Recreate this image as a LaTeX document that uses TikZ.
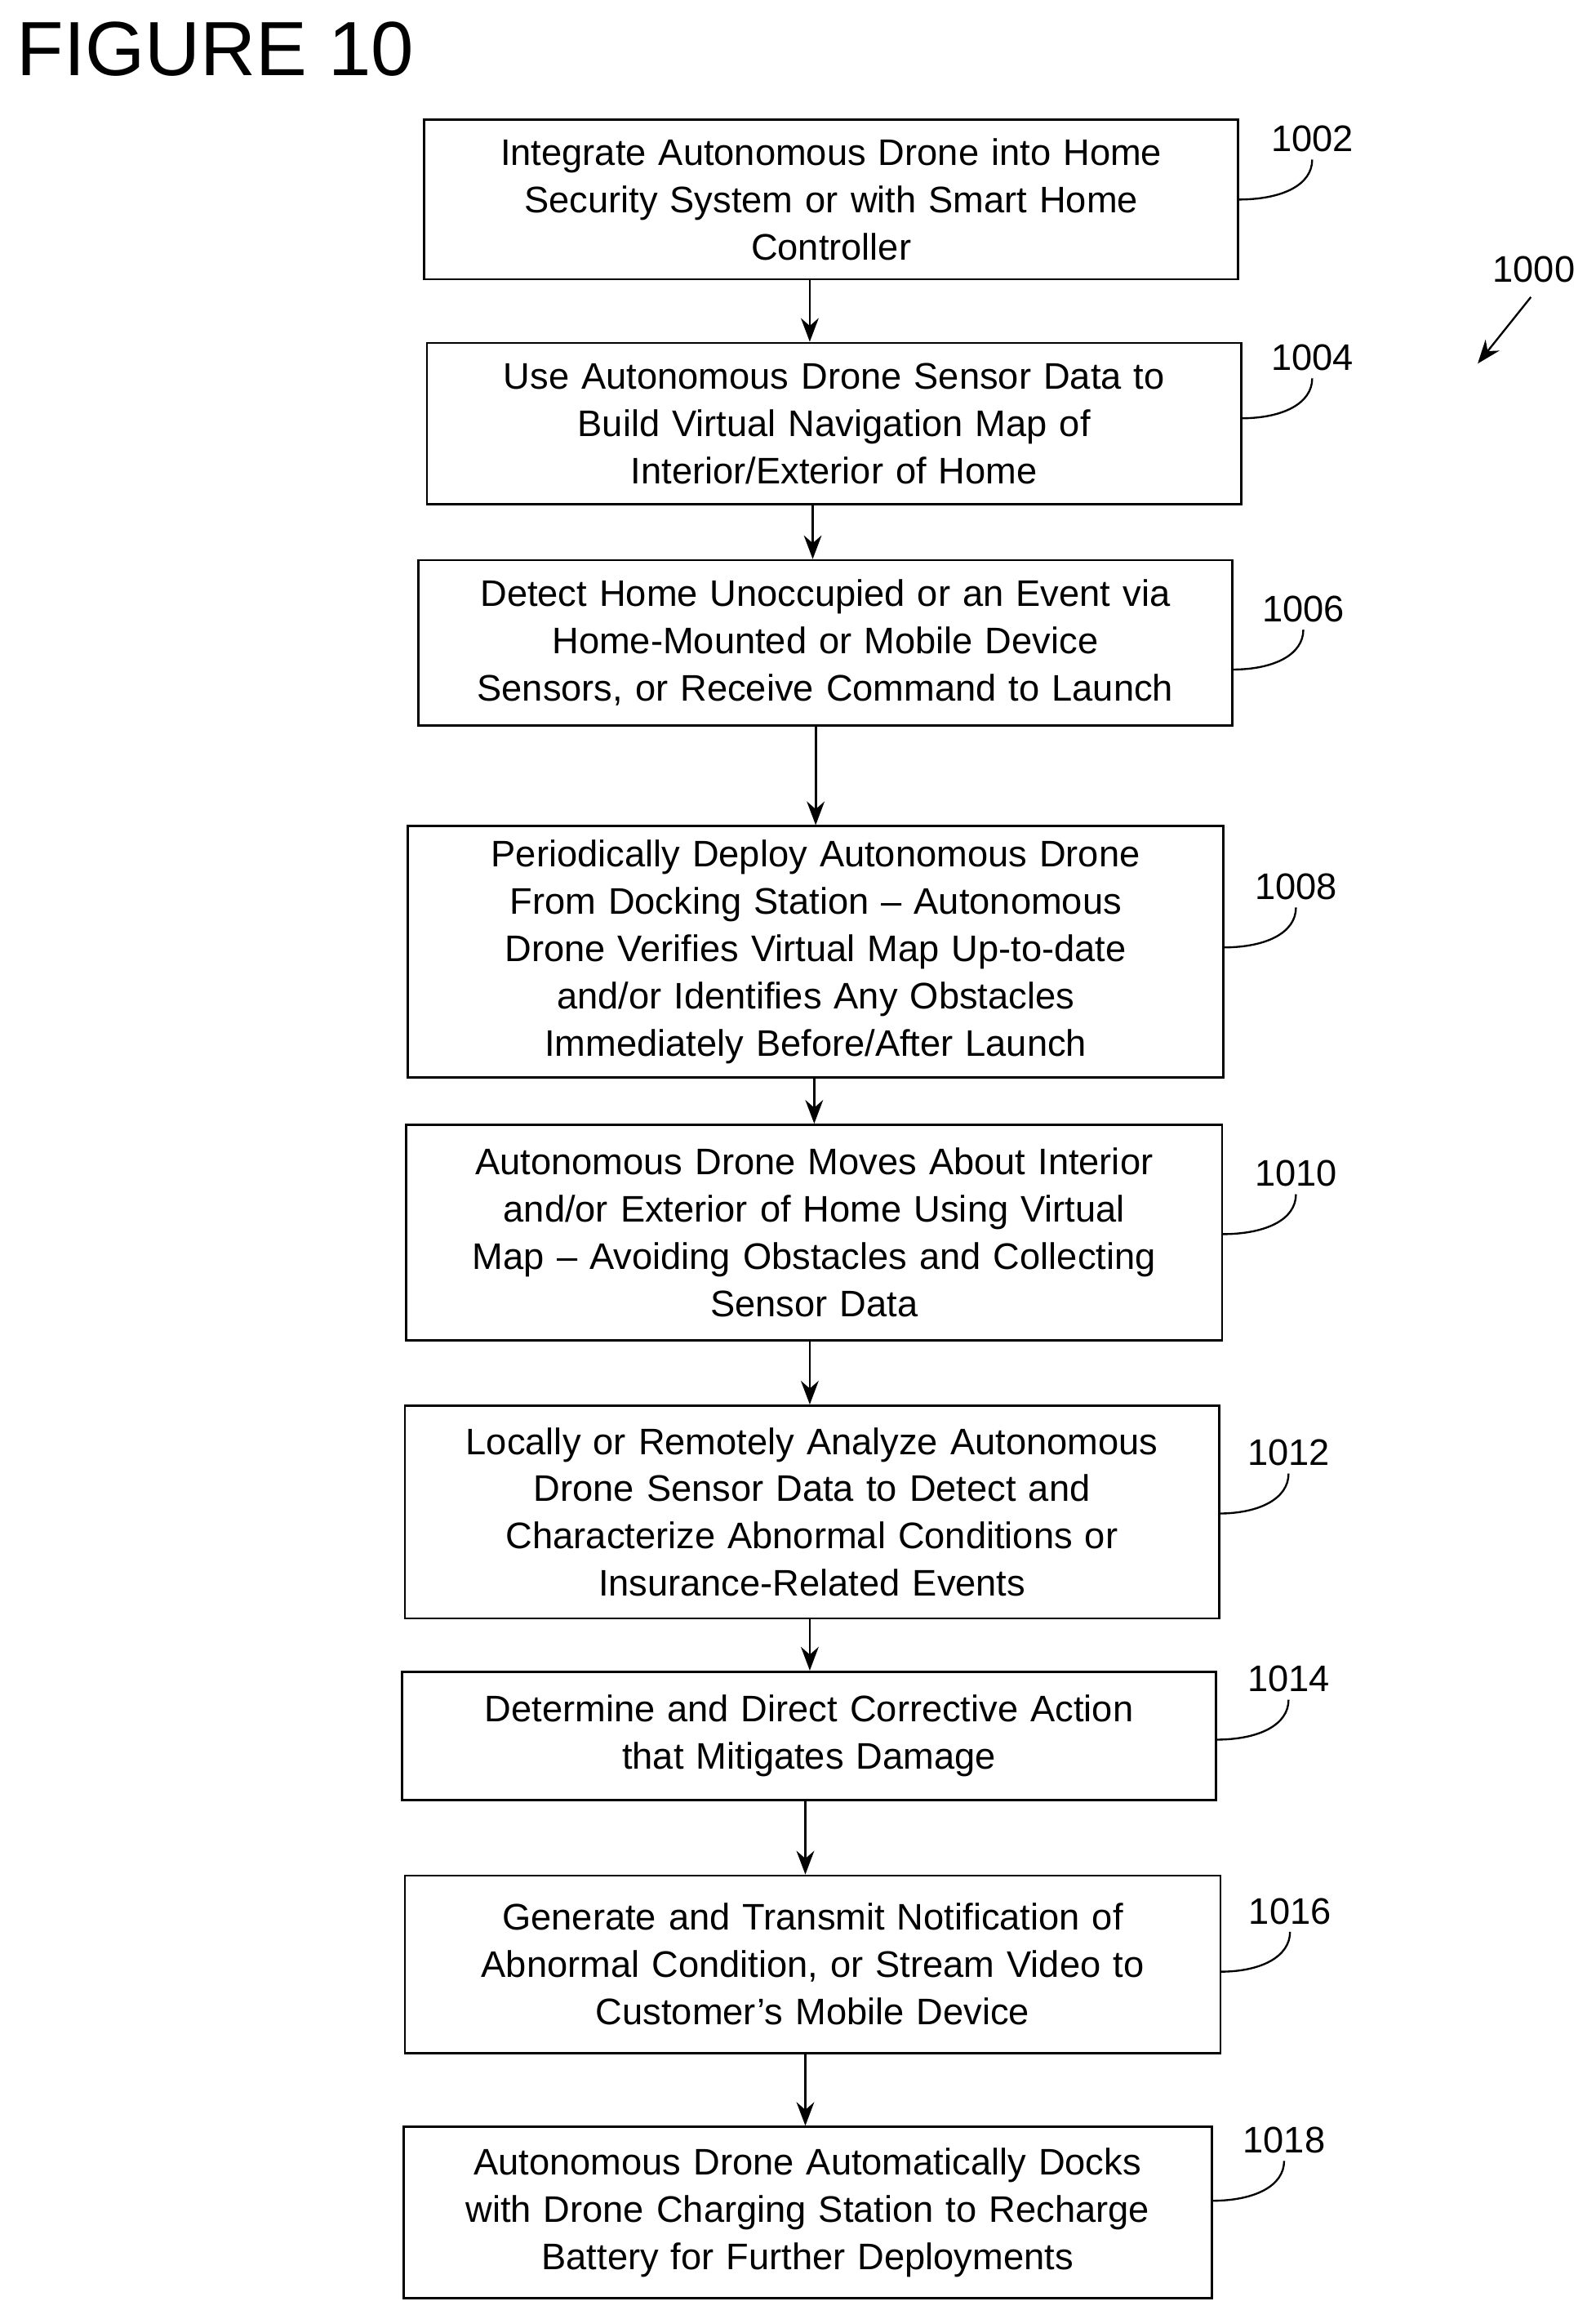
\documentclass[tikz,border=0pt]{standalone}
\usepackage{fontspec}
\setmainfont{Liberation Sans}
\usetikzlibrary{arrows.meta}
\begin{document}
\begin{tikzpicture}[x=1pt,y=-1pt,
  box/.style={draw,line width=1.5pt,inner sep=0pt,align=center,font=\fontsize{25}{32}\selectfont},
  arr/.style={line width=1.5pt,-{Stealth[length=16pt,width=12pt]}},
  hook/.style={line width=1.3pt},
  lab/.style={font=\fontsize{25}{30}\selectfont}]
\useasboundingbox (0,0) rectangle (1080,1569);
\node[anchor=west,font=\fontsize{52}{60}\selectfont] (fig) at (8,33) {FIGURE 10};
\newcommand\bx[6]{\node[box,minimum width=#3-#2,minimum height=#5-#4,text width=#3-#2-10] (#1) at ({(#2+#3)/2},{(#4+#5)/2}) {#6};}
\bx{b1}{287}{838}{81}{189}{Integrate Autonomous Drone into Home\\Security System or with Smart Home\\Controller}
\bx{b2}{289}{840}{232}{341}{Use Autonomous Drone Sensor Data to\\Build Virtual Navigation Map of\\Interior/Exterior of Home}
\bx{b3}{283}{834}{379}{491}{Detect Home Unoccupied or an Event via\\Home-Mounted or Mobile Device\\Sensors, or Receive Command to Launch}
\bx{b4}{276}{828}{559}{729}{Periodically Deploy Autonomous Drone\\From Docking Station -- Autonomous\\Drone Verifies Virtual Map Up-to-date\\and/or Identifies Any Obstacles\\Immediately Before/After Launch}
\bx{b5}{275}{827}{761}{907}{Autonomous Drone Moves About Interior\\and/or Exterior of Home Using Virtual\\Map -- Avoiding Obstacles and Collecting\\Sensor Data}
\bx{b6}{274}{825}{951}{1095}{Locally or Remotely Analyze Autonomous\\Drone Sensor Data to Detect and\\Characterize Abnormal Conditions or\\Insurance-Related Events}
\bx{b7}{272}{823}{1131}{1218}{Determine and Direct Corrective Action\\that Mitigates Damage}
\bx{b8}{274}{826}{1269}{1389}{Generate and Transmit Notification of\\Abnormal Condition, or Stream Video to\\Customer's Mobile Device}
\bx{b9}{273}{820}{1439}{1555}{Autonomous Drone Automatically Docks\\with Drone Charging Station to Recharge\\Battery for Further Deployments}
\newcommand\ar[3]{\coordinate (x#1) at (#3,0); \draw[arr] (#1.south -| x#1) -- (#2.north -| x#1);}
\ar{b1}{b2}{548}\ar{b2}{b3}{550}\ar{b3}{b4}{552}\ar{b4}{b5}{551}
\ar{b5}{b6}{548}\ar{b6}{b7}{548}\ar{b7}{b8}{545}\ar{b8}{b9}{545}
% labels: node, right x, start y, label x, text
\newcommand\lb[5]{\coordinate (s#1) at (#2,#3); \node[lab] (l#1) at (#4,#3-41) {#5};
 \draw[hook] (s#1) .. controls (#4-20,#3) and (#4,#3-10) .. (#4,#3-27);}
\lb{b1}{838}{135}{888}{1002}
\lb{b2}{840}{283}{888}{1004}
\lb{b3}{834}{453}{882}{1006}
\lb{b4}{828}{641}{877}{1008}
\lb{b5}{827}{835}{877}{1010}
\lb{b6}{825}{1024}{872}{1012}
\lb{b7}{823}{1177}{872}{1014}
\lb{b8}{826}{1334}{873}{1016}
\lb{b9}{820}{1489}{869}{1018}
\node[lab] (l0) at (1038,182) {1000};
\coordinate (t0) at (1000,246);
\draw[arr,line width=1.3pt] (1036,201) -- (t0);
\end{tikzpicture}
\end{document}
